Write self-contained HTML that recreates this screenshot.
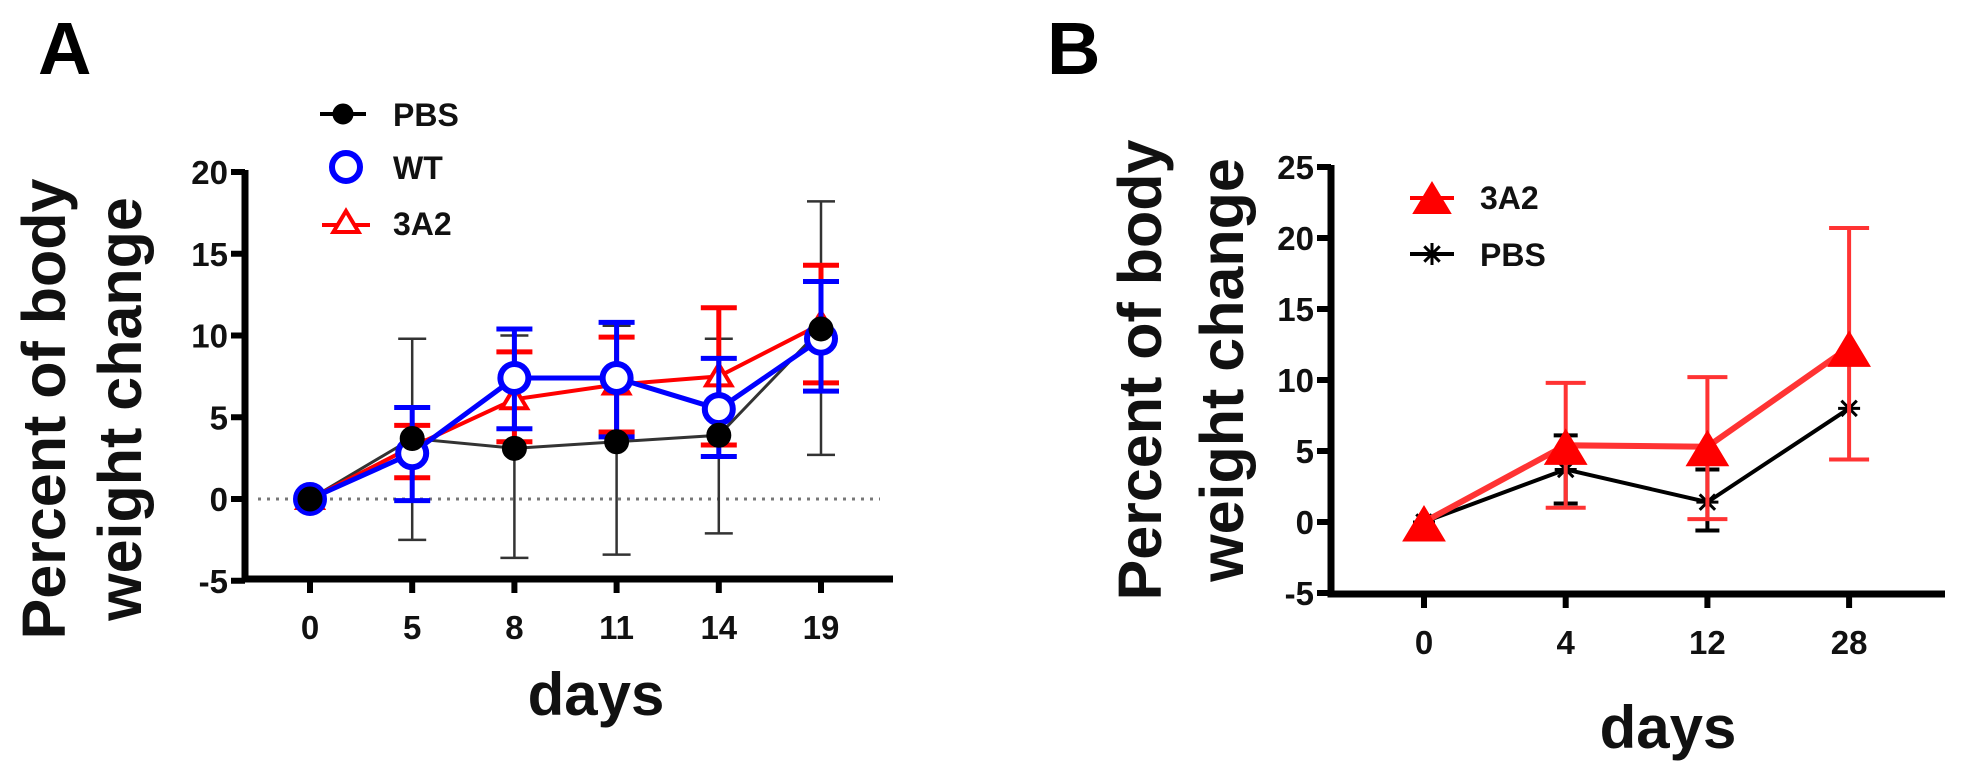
<!DOCTYPE html>
<html><head><meta charset="utf-8"><style>
html,body{margin:0;padding:0;background:#fff;}
svg{display:block;}
text{font-family:"Liberation Sans",sans-serif;}
.tk{font-family:"Liberation Sans Narrow","Liberation Sans",sans-serif;font-weight:bold;font-size:33px;fill:#111;}
.ttl{font-weight:bold;font-size:61px;fill:#111;}
</style></head><body>
<svg id="chart" width="1972" height="767" viewBox="0 0 1972 767" xmlns="http://www.w3.org/2000/svg">
<text x="38" y="74" font-size="74" font-weight="bold">A</text>
<text x="1047" y="74" font-size="74" font-weight="bold">B</text>
<g id="pa"></g>
<g id="pb"></g>
</svg>
<script>
// Panel A data
const daysA = ["0","5","8","11","14","19"];
const pbsA = [0, 3.7, 3.1, 3.5, 3.9, 10.4];
const pbsAHi = [0, 9.8, 10.0, 10.6, 9.8, 18.2];
const pbsALo = [0, -2.5, -3.6, -3.4, -2.1, 2.7];
const wtA = [0, 2.8, 7.4, 7.4, 5.5, 9.8];
const wtAHi = [0, 5.6, 10.4, 10.8, 8.6, 13.3];
const wtALo = [0, -0.1, 4.3, 3.8, 2.6, 6.6];
const a2A = [0, 3.2, 6.1, 7.0, 7.5, 10.7];
const a2AHi = [0, 4.5, 9.0, 9.9, 11.7, 14.3];
const a2ALo = [0, 1.3, 3.5, 4.1, 3.3, 7.1];
const yTicksA = [-5, 0, 5, 10, 15, 20];
// Panel B data
const daysB = ["0","4","12","28"];
const a2B = [0, 5.4, 5.3, 12.3];
const a2BHi = [0, 9.8, 10.2, 20.7];
const a2BLo = [0, 1.0, 0.2, 4.4];
const pbsB = [0, 3.7, 1.4, 8.0];
const pbsBHi = [0, 6.1, 3.7, 8.0];
const pbsBLo = [0, 1.3, -0.6, 8.0];
const yTicksB = [-5, 0, 5, 10, 15, 20, 25];

const NS="http://www.w3.org/2000/svg";
function mk(p,tag,at){const e=document.createElementNS(NS,tag);for(const k in at)e.setAttribute(k,at[k]);p.appendChild(e);return e;}

function axes(g,P,ticks,cats){
  const ax=mk(g,'path',{d:`M${P.x0} ${P.y(ticks[ticks.length-1])-2}V${P.yb}H${P.xr}`,stroke:'#000','stroke-width':7,fill:'none'});
  
  
  ticks.forEach(t=>{
    const y=P.y(t);
    mk(g,'line',{x1:P.x0-14,x2:P.x0,y1:y,y2:y,stroke:'#000','stroke-width':6});
    const tx=mk(g,'text',{x:P.x0-17,y:y+12,'text-anchor':'end',class:'tk'});
    tx.textContent=String(t);
    
    
  });
  cats.forEach((c,i)=>{
    const x=P.x(i);
    mk(g,'line',{x1:x,x2:x,y1:P.yb,y2:P.yb+14,stroke:'#000','stroke-width':6});
    const tx=mk(g,'text',{x:x,y:P.yb+60,'text-anchor':'middle',class:'tk'});
    tx.textContent=c;
    
    
  });
}
function series(g,P,vals,hi,lo,color,ew,cap,lw,name){
  const sg=mk(g,'g',{});
  
  
  vals.forEach((v,i)=>{
    const x=P.x(i);
    if(hi[i]===lo[i])return;
    mk(sg,'path',{d:`M${x} ${P.y(hi[i])}V${P.y(lo[i])}M${x-cap} ${P.y(hi[i])}h${2*cap}M${x-cap} ${P.y(lo[i])}h${2*cap}`,stroke:color,'stroke-width':ew,fill:'none'});
  });
  mk(sg,'polyline',{points:vals.map((v,i)=>P.x(i)+','+P.y(v)).join(' '),stroke:color,'stroke-width':lw,fill:'none'});
  return sg;
}
function circ(g,x,y,r,fill,stroke,sw){return mk(g,'circle',{cx:x,cy:y,r:r,fill:fill,stroke:stroke,'stroke-width':sw});}
function tri(g,x,y,s,fill,stroke,sw){return mk(g,'path',{d:`M${x} ${y-s}L${x+s*1.05} ${y+s*0.75}H${x-s*1.05}Z`,fill:fill,stroke:stroke,'stroke-width':sw});}
function star(g,x,y,s){return mk(g,'path',{d:`M${x-s} ${y}h${2*s}M${x} ${y-s}v${2*s}M${x-s*0.7} ${y-s*0.7}l${1.4*s} ${1.4*s}M${x+s*0.7} ${y-s*0.7}l${-1.4*s} ${1.4*s}`,stroke:'#000','stroke-width':3});}
function label(g,x,y,txt,size,name){const t=mk(g,'text',{x:x,y:y,'font-size':size,'font-weight':'bold',fill:'#111'});t.textContent=txt;return t;}

// ---- Panel A
(function(){
  const g=document.getElementById('pa');
  const P={x0:245,xr:893,yb:579,x:i=>310+i*102.2,y:v=>499-v*16.35};
  axes(g,P,yTicksA,daysA);
  const z=mk(g,'line',{x1:258,x2:880,y1:P.y(0),y2:P.y(0),stroke:'#777','stroke-width':3,'stroke-dasharray':'3 6'});
  
  
  series(g,P,pbsA,pbsAHi,pbsALo,'#333',2.5,14,3,'series-pbs');
  const r=series(g,P,a2A,a2AHi,a2ALo,'#f00',5,18,4,'series-3a2');
  a2A.forEach((v,i)=>tri(r,P.x(i),P.y(v),12,'#fff','#f00',4));
  const b=series(g,P,wtA,wtAHi,wtALo,'#00f',5,18,5,'series-wt');
  wtA.forEach((v,i)=>circ(b,P.x(i),P.y(v),14,'#fff','#00f',6));
  pbsA.forEach((v,i)=>circ(g,P.x(i),P.y(v),12,'#000','#000',1));
  const lg=mk(g,'g',{});
  
  
  mk(lg,'line',{x1:320,x2:366,y1:114,y2:114,stroke:'#000','stroke-width':4});circ(lg,343,114,10,'#000','#000',1);
  label(lg,393,126,'PBS',32,'legend-entry-pbs');
  circ(lg,346,167,14,'#fff','#00f',6);
  label(lg,393,179,'WT',32,'legend-entry-wt');
  mk(lg,'line',{x1:322,x2:370,y1:225,y2:225,stroke:'#f00','stroke-width':4});tri(lg,346,223,12,'#fff','#f00',4);
  label(lg,393,235,'3A2',32,'legend-entry-3a2');
  const xt=mk(g,'text',{x:596,y:715,'text-anchor':'middle','font-size':60,'font-weight':'bold',fill:'#111'});xt.textContent='days';
  
  
  const yt=mk(g,'text',{transform:'translate(65 409) rotate(-90)','text-anchor':'middle',class:'ttl'});yt.textContent='Percent of body';
  
  
  const yt2=mk(g,'text',{transform:'translate(141 409) rotate(-90)','text-anchor':'middle',class:'ttl'});yt2.textContent='weight change';
  
  
})();

// ---- Panel B
(function(){
  const g=document.getElementById('pb');
  const P={x0:1331,xr:1945,yb:594,x:i=>1424+i*141.7,y:v=>522-v*14.2};
  axes(g,P,yTicksB,daysB);
  const k=series(g,P,pbsB,pbsBHi,pbsBLo,'#000',4,12,4,'series-pbs-b');
  pbsB.forEach((v,i)=>star(k,P.x(i),P.y(v),11));
  const r=series(g,P,a2B,a2BHi,a2BLo,'#f33',4,20,6,'series-3a2-b');
  a2B.forEach((v,i)=>tri(r,P.x(i),P.y(v)+4,20,'#f00','#f00',1));
  const lg=mk(g,'g',{});
  
  
  mk(lg,'line',{x1:1410,x2:1454,y1:198,y2:198,stroke:'#f00','stroke-width':4});tri(lg,1432,200,18,'#f00','#f00',1);
  label(lg,1480,209,'3A2',32,'legend-entry-3a2-b');
  mk(lg,'line',{x1:1410,x2:1454,y1:254,y2:254,stroke:'#000','stroke-width':4});star(lg,1432,254,11);
  label(lg,1480,266,'PBS',32,'legend-entry-pbs-b');
  const xt=mk(g,'text',{x:1668,y:748,'text-anchor':'middle','font-size':60,'font-weight':'bold',fill:'#111'});xt.textContent='days';
  
  
  const yt=mk(g,'text',{transform:'translate(1161 370) rotate(-90)','text-anchor':'middle',class:'ttl'});yt.textContent='Percent of body';
  
  
  const yt2=mk(g,'text',{transform:'translate(1243 370) rotate(-90)','text-anchor':'middle',class:'ttl'});yt2.textContent='weight change';
  
  
})();
</script>
</body></html>
